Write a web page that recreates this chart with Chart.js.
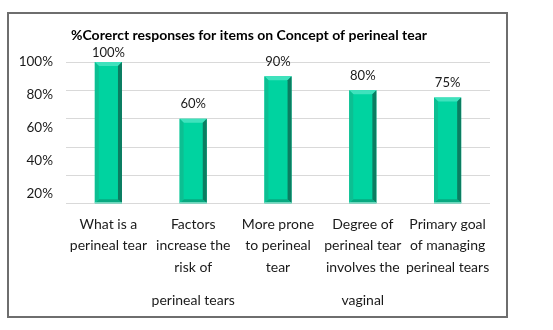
<!DOCTYPE html>
<html>
<head>
<meta charset="utf-8">
<script src="https://cdn.jsdelivr.net/npm/chart.js@4/dist/chart.umd.min.js"></script>
<style>
  html, body { margin: 0; padding: 0; background: #fff; }
  #wrap { position: relative; width: 553px; height: 330px; }
  #frame {
    position: absolute; left: 7px; top: 12px; width: 497px; height: 302px;
    border: 2px solid #6e6e6e; pointer-events: none;
  }
</style>
</head>
<body>
<div id="wrap">
  <canvas id="myChart" width="553" height="330"></canvas>
  <div id="frame"></div>
</div>
<script>
"use strict"

const chartTitle = '%Corerct responses for items on Concept of perineal tear';
const itemLabels = [
  ['What is a', 'perineal tear'],
  ['Factors', 'increase the', 'risk of'],
  ['More prone', 'to perineal', 'tear'],
  ['Degree of', 'perineal tear', 'involves the'],
  ['Primary goal', 'of managing', 'perineal tears']
];
const itemLabelsTail = ['', 'perineal tears', '', 'vaginal', ''];
const correctPercent = [100, 60, 90, 80, 75];
const yTickValues = [20, 40, 60, 80, 100];

const fontFamily = 'Lato, "Open Sans", sans-serif';
const barFill = '#00d3a0';
const lineH = 21.5;

// value labels above the bars
const valueLabels = {
  id: 'valueLabels',
  afterDatasetsDraw(chart) {
    const ctx = chart.ctx;
    const meta = chart.getDatasetMeta(0);
    ctx.save();
    ctx.font = '13px ' + fontFamily;
    ctx.fillStyle = '#1a1a1a';
    ctx.textAlign = 'center';
    ctx.textBaseline = 'middle';
    meta.data.forEach((bar, i) => {
      const y = Math.max(bar.y - 14.5, chart.chartArea.top - 9);
      ctx.fillText(correctPercent[i] + '%', bar.x, y);
    });
    ctx.restore();
  }
};

// bevelled look of the bars
const bevel = {
  id: 'bevel',
  afterDatasetsDraw(chart) {
    const ctx = chart.ctx;
    const meta = chart.getDatasetMeta(0);
    const b = 4;
    ctx.save();
    meta.data.forEach(bar => {
      const l = bar.x - bar.width / 2;
      const r = bar.x + bar.width / 2;
      const t = bar.y;
      const btm = bar.base;
      const poly = (pts, color) => {
        ctx.beginPath();
        ctx.moveTo(pts[0][0], pts[0][1]);
        pts.slice(1).forEach(p => ctx.lineTo(p[0], p[1]));
        ctx.closePath();
        ctx.fillStyle = color;
        ctx.fill();
      };
      poly([[l, t], [r, t], [r - b, t + b], [l + b, t + b]], '#3fe2bd');
      poly([[r, t], [r, btm], [r - b, btm - b], [r - b, t + b]], '#0b7d61');
      poly([[l, btm], [r, btm], [r - b, btm - b], [l + b, btm - b]], '#08a980');
      poly([[l, t], [l + b, t + b], [l + b, btm - b], [l, btm]], '#0cbf92');
      ctx.fillStyle = '#8ee8d2';
      ctx.fillRect(l, btm - 1, bar.width, 1);
    });
    ctx.restore();
  }
};

const ctx = document.getElementById('myChart').getContext('2d');
const myChart = new Chart(ctx, {
  type: 'bar',
  data: {
    labels: itemLabels,
    datasets: [{
      label: 'Correct responses',
      data: correctPercent,
      backgroundColor: barFill,
      borderWidth: 0,
      categoryPercentage: 1,
      barPercentage: 0.32
    }]
  },
  options: {
    responsive: false,
    animation: false,
    layout: {
      padding: { left: 8, right: 63, top: 0, bottom: 19 }
    },
    plugins: {
      legend: { display: false },
      tooltip: { enabled: false },
      title: {
        display: true,
        text: chartTitle,
        color: '#000',
        font: { family: fontFamily, size: 14, weight: 'bold', lineHeight: 1.2 },
        padding: { top: 27, bottom: 18.2 }
      }
    },
    scales: {
      x: {
        weight: 0,
        grid: { display: false, drawTicks: false },
        border: { display: false },
        ticks: {
          color: '#1a1a1a',
          padding: 9.75,
          maxRotation: 0,
          autoSkip: false,
          font: { family: fontFamily, size: 14, lineHeight: lineH / 14 }
        },
        afterFit(scale) { scale.height = 9.75 + 3 * lineH; }
      },
      x2: {
        type: 'category',
        position: 'bottom',
        weight: 1,
        labels: itemLabelsTail,
        grid: { display: false, drawTicks: false },
        border: { display: false },
        ticks: {
          color: '#1a1a1a',
          padding: 11.5,
          maxRotation: 0,
          autoSkip: false,
          font: { family: fontFamily, size: 14, lineHeight: lineH / 14 }
        },
        afterFit(scale) { scale.height = 11.5 + lineH; }
      },
      y: {
        min: 0,
        max: 100,
        weight: 1,
        grid: { color: '#d9d9d9', lineWidth: 1, drawTicks: false },
        border: { display: false },
        ticks: { display: false, stepSize: 20 },
        afterFit(scale) { scale.width = 0; }
      },
      yl: {
        type: 'linear',
        position: 'left',
        weight: 0,
        min: 14,
        max: 100,
        grid: { display: false, drawTicks: false },
        border: { display: false },
        afterBuildTicks(scale) {
          scale.ticks = yTickValues.map(v => ({ value: v }));
        },
        ticks: {
          color: '#1a1a1a',
          padding: 13,
          font: { family: fontFamily, size: 13.5 },
          callback: v => v + '%'
        },
        afterFit(scale) { scale.width = 58; }
      }
    }
  },
  plugins: [bevel, valueLabels]
});
</script>
</body>
</html>
